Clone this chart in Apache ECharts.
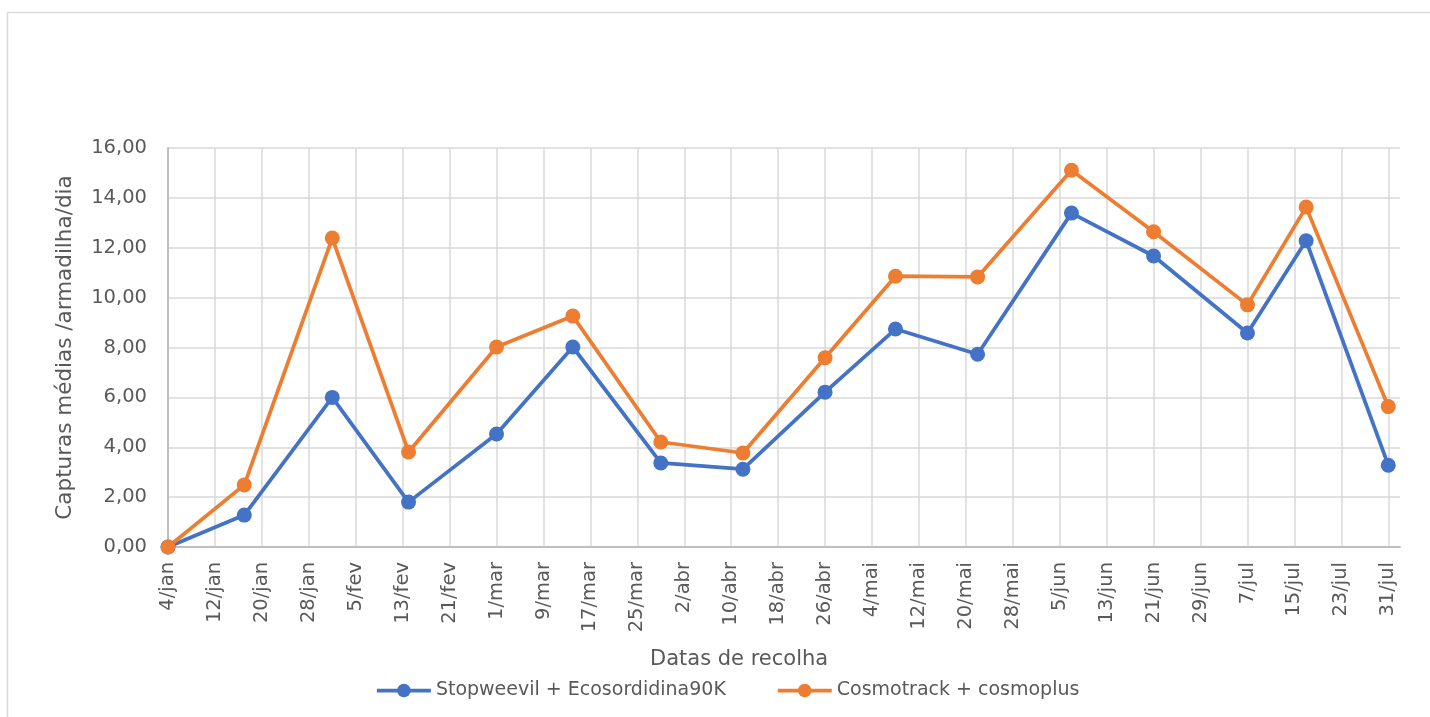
<!DOCTYPE html>
<html>
<head>
<meta charset="utf-8">
<script src="https://cdn.jsdelivr.net/npm/echarts@6/dist/echarts.min.js"></script>
<style>
  html, body { margin: 0; padding: 0; background: #fff; }
  #main { width: 1430px; height: 717px; }
</style>
</head>
<body>
<div id="main"></div>
<script>
// datas de recolha
var dates = ['2021-01-04', '2021-01-17', '2021-02-01', '2021-02-14', '2021-03-01', '2021-03-14',
             '2021-03-29', '2021-04-12', '2021-04-26', '2021-05-08', '2021-05-22', '2021-06-07',
             '2021-06-21', '2021-07-07', '2021-07-17', '2021-07-31'];
var stopweevil = [0, 1.28, 6.0, 1.8, 4.53, 8.02, 3.37, 3.12, 6.21, 8.74, 7.73, 13.39, 11.67, 8.58, 12.28, 3.28];
var cosmotrack = [0, 2.49, 12.39, 3.81, 8.02, 9.26, 4.21, 3.77, 7.59, 10.86, 10.83, 15.11, 12.64, 9.71, 13.63, 5.63];
var tickLabels = ['4/jan', '12/jan', '20/jan', '28/jan', '5/fev', '13/fev', '21/fev', '1/mar', '9/mar',
                  '17/mar', '25/mar', '2/abr', '10/abr', '18/abr', '26/abr', '4/mai', '12/mai', '20/mai',
                  '28/mai', '5/jun', '13/jun', '21/jun', '29/jun', '7/jul', '15/jul', '23/jul', '31/jul'];
var yTicks = ['0,00', '2,00', '4,00', '6,00', '8,00', '10,00', '12,00', '14,00', '16,00'];

// dias desde a primeira data
var start = Date.parse(dates[0]);
function dayOf(d) { return Math.round((Date.parse(d) - start) / 86400000); }

var s1 = [], s2 = [];
for (var i = 0; i < dates.length; i++) {
    s1.push([dayOf(dates[i]), stopweevil[i]]);
    s2.push([dayOf(dates[i]), cosmotrack[i]]);
}

var font = 'DejaVu Sans';
var txt = '#595959';

var myChart = echarts.init(document.getElementById('main'));

var option = {
    backgroundColor: '#fff',
    animation: false,
    graphic: [
        {
            type: 'line',
            shape: { x1: 7.5, y1: 12.5, x2: 1430, y2: 12.5 },
            style: { stroke: '#d9d9d9', lineWidth: 1.5 },
            silent: true
        },
        {
            type: 'line',
            shape: { x1: 7.5, y1: 12.5, x2: 7.5, y2: 717 },
            style: { stroke: '#d9d9d9', lineWidth: 1.5 },
            silent: true
        }
    ],
    title: {
        text: 'Datas de recolha',
        left: 645,
        top: 644,
        textStyle: { fontFamily: font, fontSize: 21, fontWeight: 'normal', color: txt }
    },
    legend: {
        left: 370,
        top: 676,
        itemWidth: 54,
        itemHeight: 17,
        itemGap: 50,
        lineStyle: { width: 3.75 },
        textStyle: { fontFamily: font, fontSize: 19, color: txt },
        data: ['Stopweevil + Ecosordidina90K', 'Cosmotrack + cosmoplus']
    },
    grid: { left: 168, right: 30, top: 148, bottom: 170 },
    xAxis: {
        type: 'value',
        min: 0,
        max: 210,
        interval: 8,
        axisLine: { show: true, lineStyle: { color: '#bfbfbf', width: 2 } },
        axisTick: { show: false },
        splitLine: { show: true, showMaxLine: false, lineStyle: { color: '#d9d9d9', width: 1.5 } },
        axisLabel: {
            rotate: 90,
            margin: 15,
            showMaxLabel: false,
            fontFamily: font,
            fontSize: 19.5,
            color: txt,
            formatter: function (v) {
                return v % 8 === 0 ? (tickLabels[v / 8] || '') : '';
            }
        }
    },
    yAxis: {
        type: 'value',
        min: 0,
        max: 16,
        interval: 2,
        name: 'Capturas médias /armadilha/dia',
        nameLocation: 'middle',
        nameGap: 92,
        nameTextStyle: { fontFamily: font, fontSize: 21.5, color: txt },
        axisLine: { show: true, lineStyle: { color: '#bfbfbf', width: 2 } },
        axisTick: { show: false },
        splitLine: { lineStyle: { color: '#d9d9d9', width: 1.5 } },
        axisLabel: {
            margin: 21,
            fontFamily: font,
            fontSize: 19.5,
            color: txt,
            formatter: function (v) { return yTicks[v / 2]; }
        }
    },
    series: [
        {
            name: 'Stopweevil + Ecosordidina90K',
            type: 'line',
            data: s1,
            symbol: 'circle',
            symbolSize: 15,
            color: '#4472C4',
            lineStyle: { width: 3.75 }
        },
        {
            name: 'Cosmotrack + cosmoplus',
            type: 'line',
            data: s2,
            symbol: 'circle',
            symbolSize: 15,
            color: '#ED7D31',
            lineStyle: { width: 3.75 }
        }
    ]
};

myChart.setOption(option);
</script>
</body>
</html>
